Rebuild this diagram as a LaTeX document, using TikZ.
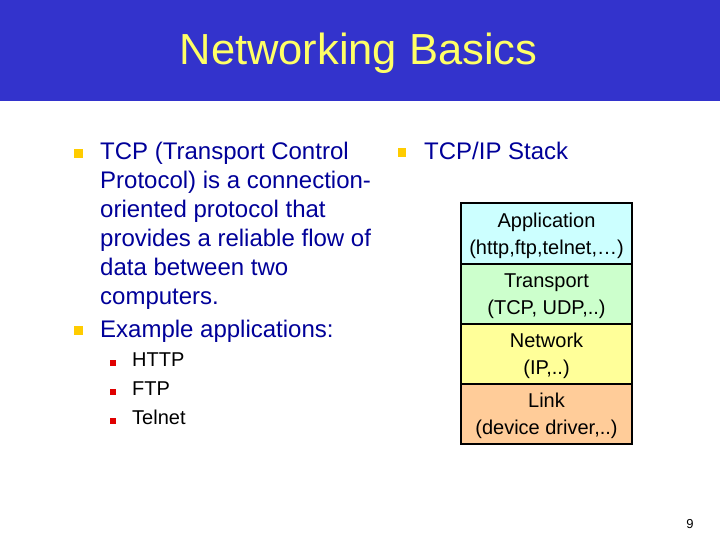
\documentclass[tikz,border=0pt]{standalone}
\usepackage{fontspec}
\setmainfont{Liberation Sans}
\definecolor{titlebg}{HTML}{3333CC}
\definecolor{titlefg}{HTML}{FFFF66}
\definecolor{bodyblue}{HTML}{000099}
\definecolor{bulyellow}{HTML}{FFCC00}
\definecolor{bulred}{HTML}{E00000}
\definecolor{appc}{HTML}{CCFFFF}
\definecolor{trac}{HTML}{CCFFCC}
\definecolor{netc}{HTML}{FFFF99}
\definecolor{linkc}{HTML}{FFCC99}
\begin{document}
\begin{tikzpicture}[x=1pt,y=-1pt,
  bodytext/.style={anchor=base west,inner sep=0pt,text=bodyblue,font=\fontsize{24}{28.8}\selectfont},
  subtext/.style={anchor=base west,inner sep=0pt,text=black,font=\fontsize{20}{24}\selectfont},
  bigbul/.style={rectangle,fill=bulyellow,inner sep=0pt,minimum size=8.5pt},
  smallbul/.style={rectangle,fill=bulred,inner sep=0pt,minimum size=6pt},
  layer/.style={rectangle,draw=black,line width=2pt,minimum width=171pt,minimum height=60pt,inner sep=0pt},
  layertext/.style={anchor=base,inner sep=0pt,text=black,font=\fontsize{20}{24}\selectfont}]
\useasboundingbox (0,0) rectangle (720,540);
\fill[white] (0,0) rectangle (720,540);
% title bar
\node[rectangle,fill=titlebg,inner sep=0pt,minimum width=720pt,minimum height=101pt,anchor=north west] (bar) at (0,0) {};
\node[anchor=base,inner sep=0pt,text=titlefg,font=\fontsize{43.5}{50}\selectfont] (title) at (358.5,65) {Networking Basics};
% left column
\node[bigbul] (b1) at (78.5,153.5) {};
\node[bodytext] (l1) at (100,160) {TCP (Transport Control};
\node[bodytext] (l2) at (100,188.8) {Protocol) is a connection-};
\node[bodytext] (l3) at (100,217.6) {oriented protocol that};
\node[bodytext] (l4) at (100,246.4) {provides a reliable flow of};
\node[bodytext] (l5) at (100,275.2) {data between two};
\node[bodytext] (l6) at (100,304) {computers.};
\node[bigbul] (b2) at (78.5,330.5) {};
\node[bodytext] (l7) at (100,337) {Example applications:};
\node[smallbul] (s1) at (113,362.5) {};
\node[subtext] (t1) at (132,366) {HTTP};
\node[smallbul] (s2) at (113,391.5) {};
\node[subtext] (t2) at (132,395) {FTP};
\node[smallbul] (s3) at (113,420.5) {};
\node[subtext] (t3) at (132,424) {Telnet};
% right column
\node[bigbul] (b3) at (402,152.5) {};
\node[bodytext] (r1) at (424,160) {TCP/IP Stack};
% stack
\node[layer,fill=appc] (app) at (546.5,233.5) {};
\node[layer,fill=trac] (tra) at (546.5,294) {};
\node[layer,fill=netc] (net) at (546.5,354) {};
\node[layer,fill=linkc] (lnk) at (546.5,414) {};
\node[layertext] (app1) at (546.5,227) {Application};
\node[layertext] (app2) at (546.5,254.5) {(http,ftp,telnet,\dots)};
\node[layertext] (tra1) at (546.5,287) {Transport};
\node[layertext] (tra2) at (546.5,314.5) {(TCP, UDP,..)};
\node[layertext] (net1) at (546.5,347) {Network};
\node[layertext] (net2) at (546.5,374.5) {(IP,..)};
\node[layertext] (lnk1) at (546.5,407) {Link};
\node[layertext] (lnk2) at (546.5,434.5) {(device driver,..)};
% page number
\node[anchor=base,inner sep=0pt,text=black,font=\fontsize{13}{15}\selectfont] (pg) at (690,528) {9};
\end{tikzpicture}
\end{document}
